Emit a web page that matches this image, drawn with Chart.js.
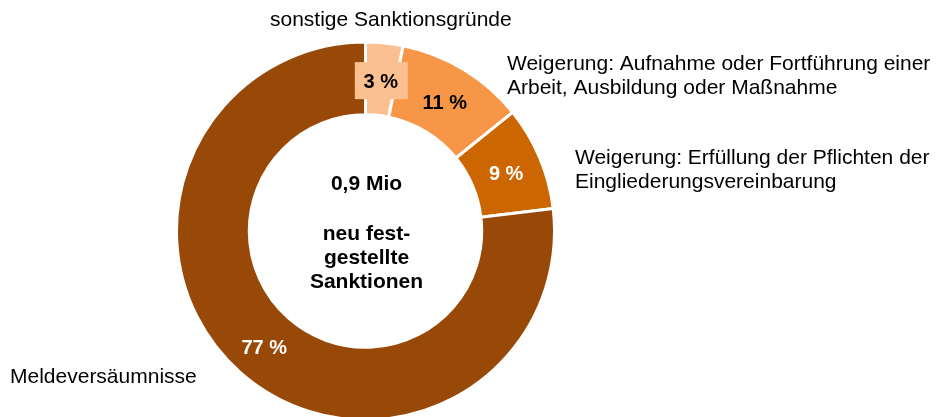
<!DOCTYPE html>
<html>
<head>
<meta charset="utf-8">
<script src="https://cdn.jsdelivr.net/npm/chart.js@4"></script>
<style>
    html, body { margin: 0; padding: 0; background: #fff; }
    #wrap { width: 938px; height: 417px; position: relative; }
</style>
</head>
<body>
<div id="wrap"><canvas id="sanctions-chart"></canvas></div>
<script>
// Data
const categories = [
    "sonstige Sanktionsgründe",
    "Weigerung: Aufnahme oder Fortführung einer Arbeit, Ausbildung oder Maßnahme",
    "Weigerung: Erfüllung der Pflichten der Eingliederungsvereinbarung",
    "Meldeversäumnisse"
];
const shares = [3.2, 11.0, 8.9, 76.9];
const shareLabels = ["3 %", "11 %", "9 %", "77 %"];
const centerLines = ["0,9 Mio", "", "neu fest-", "gestellte", "Sanktionen"];

const sliceColors = ["#FAC090", "#F79646", "#CC6600", "#984807"];
const valueColors = ["#000", "#000", "#fff", "#fff"];

const FONT = "'Liberation Sans', Arial, sans-serif";

// Category labels outside the ring (text lines, left x, first baseline)
const outerLabels = [
    { lines: ["sonstige Sanktionsgründe"], x: 270, y: 26 },
    { lines: ["Weigerung: Aufnahme oder Fortführung einer", "Arbeit, Ausbildung oder Maßnahme"], x: 507, y: 70 },
    { lines: ["Weigerung: Erfüllung der Pflichten der", "Eingliederungsvereinbarung"], x: 575, y: 164 },
    { lines: ["Meldeversäumnisse"], x: 10, y: 383 }
];

// Draw labels
const labelPlugin = {
    id: "labels",
    afterDatasetsDraw(chart) {
        const ctx = chart.ctx;
        const arcs = chart.getDatasetMeta(0).data;

        ctx.save();

        // value labels
        ctx.font = `bold 20px ${FONT}`;
        ctx.textAlign = "center";
        ctx.textBaseline = "middle";
        arcs.forEach((arc, i) => {
            const p = arc.getCenterPoint();
            const y = p.y + 3;
            if (i === 0) {
                ctx.fillStyle = sliceColors[0];
                ctx.fillRect(p.x - 26, y - 20, 53, 37);
            }
            ctx.fillStyle = valueColors[i];
            ctx.fillText(shareLabels[i], p.x, y);
        });

        // center text
        const c = arcs[0];
        ctx.fillStyle = "#000";
        ctx.font = `bold 21px ${FONT}`;
        ctx.textBaseline = "alphabetic";
        let y = 190;
        centerLines.forEach((line) => {
            ctx.fillText(line, c.x + 1, y);
            y += line ? 24 : 26;
        });

        // outer labels
        ctx.font = `21px ${FONT}`;
        ctx.textAlign = "left";
        outerLabels.forEach((lab) => {
            lab.lines.forEach((line, j) => {
                ctx.fillText(line, lab.x, lab.y + j * 24);
            });
        });

        ctx.restore();
    }
};

new Chart(document.getElementById("sanctions-chart"), {
    type: "doughnut",
    data: {
        labels: categories,
        datasets: [{
            data: shares,
            backgroundColor: sliceColors,
            borderColor: "#fff",
            borderWidth: 3,
            radius: 189,
            cutout: "61.5%"
        }]
    },
    options: {
        responsive: true,
        maintainAspectRatio: false,
        animation: false,
        layout: {
            padding: { left: 0, right: 207, top: 45, bottom: 0 }
        },
        plugins: {
            legend: { display: false },
            tooltip: { enabled: false }
        }
    },
    plugins: [labelPlugin]
});
</script>
</body>
</html>
